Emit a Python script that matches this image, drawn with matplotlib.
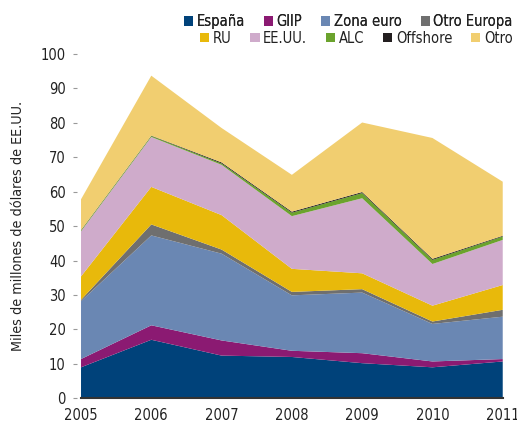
import matplotlib.pyplot as plt
from matplotlib.patches import Patch

plt.rcParams["font.family"] = ["DejaVu Sans"]
plt.rcParams["font.stretch"] = "condensed"

years = [2005, 2006, 2007, 2008, 2009, 2010, 2011]

espana = [9.0, 17.0, 12.4, 12.0, 10.2, 9.0, 10.7]
giip = [2.4, 4.2, 4.4, 1.8, 2.9, 1.7, 0.7]
zona_euro = [16.8, 26.1, 25.2, 16.1, 17.6, 10.9, 12.3]
otro_europa = [0.4, 3.2, 1.2, 1.0, 1.0, 0.7, 2.0]
ru = [6.8, 10.9, 10.0, 6.7, 4.6, 4.6, 7.2]
eeuu = [13.1, 14.5, 14.6, 15.3, 21.8, 12.1, 13.1]
alc = [0.3, 0.3, 0.4, 1.0, 1.5, 1.2, 1.0]
offshore = [0.1, 0.1, 0.3, 0.3, 0.3, 0.3, 0.2]
otro = [8.9, 17.4, 10.0, 10.7, 20.2, 35.1, 15.7]

labels = ["España", "GIIP", "Zona euro", "Otro Europa", "RU",
          "EE.UU.", "ALC", "Offshore", "Otro"]
colors = ["#00427A", "#8B1A72", "#6A87B3", "#6F6F6F", "#E8B90B",
          "#CFABCB", "#6BA32D", "#231F20", "#F1CE70"]


def main():
    fig = plt.figure(figsize=(5.17, 4.23), dpi=100)
    ax = fig.add_axes([0.1567, 0.0584, 0.8157, 0.814])

    series = [espana, giip, zona_euro, otro_europa, ru, eeuu, alc, offshore, otro]
    ax.stackplot(years, *series, colors=colors, linewidth=0)

    ax.set_xlim(2005, 2011)
    ax.set_ylim(0, 100)
    ax.set_yticks(range(0, 101, 10))
    ax.set_xticks(years)
    ax.spines["left"].set_position(("outward", 3))
    ax.tick_params(axis="y", length=3, width=0.8, color="#999999",
                   labelsize=10.5, pad=5, labelcolor="#222222")
    ax.tick_params(axis="x", length=0, labelsize=10.5, pad=7, labelcolor="#222222")
    for side in ["left", "right", "top"]:
        ax.spines[side].set_visible(False)
    ax.spines["bottom"].set_color("#333333")
    ax.spines["bottom"].set_linewidth(1.5)
    ax.set_ylabel("Miles de millones de dólares de EE.UU.", fontsize=10.3,
                  color="#222222")
    ax.yaxis.set_label_coords(-0.132, 0.5)

    handles = [Patch(facecolor=c, label=l) for c, l in zip(colors, labels)]
    opts = dict(frameon=False, fontsize=10.5, handlelength=0.62,
                handleheight=0.62, handletextpad=0.25, columnspacing=1.3,
                borderaxespad=0, borderpad=0, labelcolor="#222222")
    leg1 = fig.legend(handles=handles[:4], ncol=4, loc="center right",
                      bbox_to_anchor=(0.992, 0.949), **opts)
    fig.add_artist(leg1)
    fig.legend(handles=handles[4:], ncol=5, loc="center right",
               bbox_to_anchor=(0.992, 0.910), **opts)

    fig.savefig("out.png", dpi=100)


if __name__ == "__main__":
    main()
